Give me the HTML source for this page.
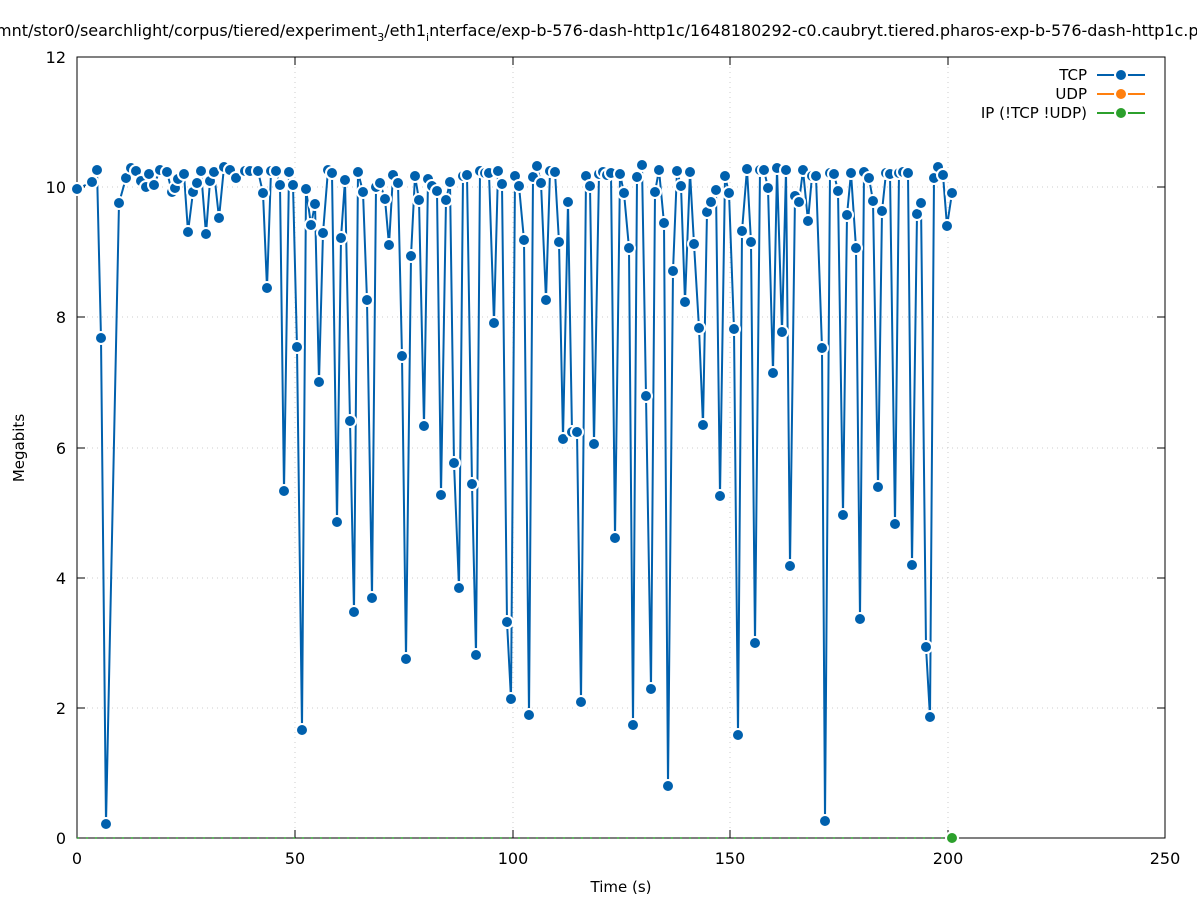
<!DOCTYPE html>
<html><head><meta charset="utf-8"><style>
html,body{margin:0;padding:0;background:#fff;}
svg{display:block;font-family:"DejaVu Sans","Liberation Sans",sans-serif;}
</style></head><body>
<svg width="1197" height="900" viewBox="0 0 1197 900" xmlns="http://www.w3.org/2000/svg">
<defs>
<marker id="m" viewBox="-8 -8 16 16" markerWidth="16" markerHeight="16" refX="0" refY="0" markerUnits="userSpaceOnUse">
<circle r="6" fill="#0060ad" stroke="#fff" stroke-width="2"/>
</marker>
</defs>
<rect width="1197" height="900" fill="#fff"/>
<text x="-4" y="36" font-size="16" fill="#000">mnt/stor0/searchlight/corpus/tiered/experiment<tspan font-size="11" dy="5">3</tspan><tspan dy="-5">/eth1</tspan><tspan font-size="11" dy="5">i</tspan><tspan dy="-5">nterface/exp-b-576-dash-http1c/1648180292-c0.caubryt.tiered.pharos-exp-b-576-dash-http1c.pcap</tspan></text>
<g stroke="#ccc" stroke-width="1" stroke-dasharray="1,4">
<line x1="295" y1="57" x2="295" y2="838"/><line x1="513" y1="57" x2="513" y2="838"/><line x1="730" y1="57" x2="730" y2="838"/><line x1="948" y1="57" x2="948" y2="838"/>
<line x1="77" y1="708" x2="1165" y2="708"/><line x1="77" y1="578" x2="1165" y2="578"/><line x1="77" y1="448" x2="1165" y2="448"/><line x1="77" y1="317" x2="1165" y2="317"/><line x1="77" y1="187" x2="1165" y2="187"/>
</g>
<rect x="77" y="57" width="1088" height="781" fill="none" stroke="#000" stroke-width="1"/>
<g stroke="#000" stroke-width="1">
<line x1="295" y1="838" x2="295" y2="830"/><line x1="513" y1="838" x2="513" y2="830"/><line x1="730" y1="838" x2="730" y2="830"/><line x1="948" y1="838" x2="948" y2="830"/>
<line x1="295" y1="57" x2="295" y2="65"/><line x1="513" y1="57" x2="513" y2="65"/><line x1="730" y1="57" x2="730" y2="65"/><line x1="948" y1="57" x2="948" y2="65"/>
<line x1="77" y1="708" x2="85" y2="708"/><line x1="77" y1="578" x2="85" y2="578"/><line x1="77" y1="448" x2="85" y2="448"/><line x1="77" y1="317" x2="85" y2="317"/><line x1="77" y1="187" x2="85" y2="187"/>
<line x1="1165" y1="708" x2="1157" y2="708"/><line x1="1165" y1="578" x2="1157" y2="578"/><line x1="1165" y1="448" x2="1157" y2="448"/><line x1="1165" y1="317" x2="1157" y2="317"/><line x1="1165" y1="187" x2="1157" y2="187"/>
</g>
<g font-size="16" fill="#000" text-anchor="end">
<text x="66" y="844">0</text><text x="66" y="714">2</text><text x="66" y="584">4</text><text x="66" y="454">6</text><text x="66" y="323">8</text><text x="66" y="193">10</text><text x="66" y="63">12</text>
</g>
<g font-size="16" fill="#000" text-anchor="middle">
<text x="77" y="864">0</text><text x="295" y="864">50</text><text x="513" y="864">100</text><text x="730" y="864">150</text><text x="948" y="864">200</text><text x="1165" y="864">250</text>
<text x="621" y="892" font-size="15">Time (s)</text>
</g>
<text transform="translate(24,448) rotate(-90)" font-size="15" text-anchor="middle">Megabits</text>
<line x1="77" y1="838" x2="952" y2="838" stroke="#2ca02c" stroke-width="1.5" stroke-dasharray="2,7"/>
<polyline fill="none" stroke="#0060ad" stroke-width="2" marker-start="url(#m)" marker-mid="url(#m)" marker-end="url(#m)" points="77,189 92,182 97,170 101,338 106,824 119,203 126,178 131,168 136,171 141,181 146,187 149,174 154,185 160,170 167,172 172,192 175,188 178,179 184,174 188,232 193,192 197,183 201,171 206,234 210,181 214,172 219,218 224,167 230,170 236,178 245,171 250,171 258,171 263,193 267,288 271,171 276,171 280,185 284,491 289,172 293,185 297,347 302,730 306,189 311,225 315,204 319,382 323,233 328,170 332,173 337,522 341,238 345,180 350,421 354,612 358,172 363,192 367,300 372,598 376,187 380,183 385,199 389,245 393,175 398,183 402,356 406,659 411,256 415,176 419,200 424,426 428,179 432,186 437,191 441,495 446,200 450,182 454,463 459,588 463,176 467,175 472,484 476,655 480,171 485,173 489,173 494,323 498,171 502,184 507,622 511,699 515,176 519,186 524,240 529,715 533,177 537,166 541,183 546,300 550,171 555,172 559,242 563,439 568,202 572,432 577,432 581,702 586,176 590,186 594,444 599,174 603,172 607,175 611,173 615,538 620,174 624,193 629,248 633,725 637,177 642,165 646,396 651,689 655,192 659,170 664,223 668,786 673,271 677,171 681,186 685,302 690,172 694,244 699,328 703,425 707,212 711,202 716,190 720,496 725,176 729,193 734,329 738,735 742,231 747,169 751,242 755,643 760,170 764,170 768,188 773,373 777,168 782,332 786,170 790,566 795,196 799,202 803,170 808,221 812,176 816,176 822,348 825,821 830,173 834,174 838,191 843,515 847,215 851,173 856,248 860,619 864,172 869,178 873,201 878,487 882,211 886,173 890,174 895,524 899,173 903,172 908,173 912,565 917,214 921,203 926,647 930,717 934,178 938,167 943,175 947,226 952,193"/>
<circle cx="952" cy="838" r="6" fill="#2ca02c" stroke="#fff" stroke-width="2"/>
<g font-size="15" fill="#000" text-anchor="end">
<text x="1087" y="80">TCP</text><text x="1087" y="99">UDP</text><text x="1087" y="118">IP (!TCP  !UDP)</text>
</g>
<line x1="1097" y1="75" x2="1145" y2="75" stroke="#0060ad" stroke-width="2"/><circle cx="1121" cy="75" r="6" fill="#0060ad" stroke="#fff" stroke-width="2"/>
<line x1="1097" y1="94" x2="1145" y2="94" stroke="#ff7f0e" stroke-width="2"/><circle cx="1121" cy="94" r="6" fill="#ff7f0e" stroke="#fff" stroke-width="2"/>
<line x1="1097" y1="113" x2="1145" y2="113" stroke="#2ca02c" stroke-width="2"/><circle cx="1121" cy="113" r="6" fill="#2ca02c" stroke="#fff" stroke-width="2"/>
</svg>
</body></html>
